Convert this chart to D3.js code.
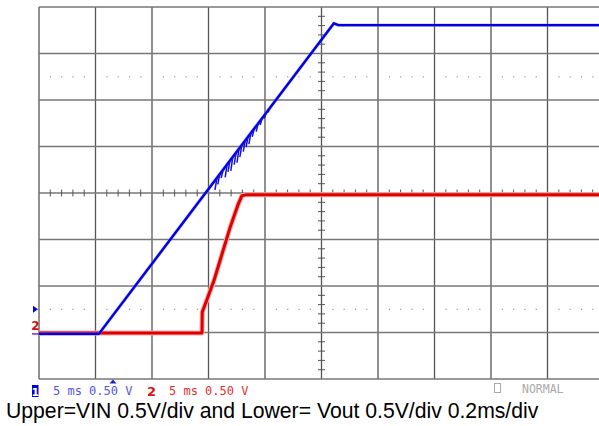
<!DOCTYPE html>
<html><head><meta charset="utf-8">
<script src="https://cdn.jsdelivr.net/npm/d3@7"></script>
<style>html,body{margin:0;padding:0;background:#fff;overflow:hidden}</style>
</head><body>
<svg id="c" width="599" height="426"></svg>
<script>
// Time in divisions (0.2 ms/div), voltage in divisions (0.5 V/div), screen centre = 0
const blueT = [0, 1.06, 5.22, 5.30, 6.0, 8.0, 10.0];
const blueV = [-3.03, -3.03, 3.65, 3.61, 3.61, 3.61, 3.61];
const redT = [0, 2.885, 2.89, 2.97, 3.10, 3.38, 3.52, 3.59, 3.66, 6.0, 10.0];
const redV = [-3.01, -3.01, -2.56, -2.30, -1.87, -0.75, -0.26, -0.06, -0.04, -0.04, -0.04];
// ringing spikes on the VIN ramp: time (div) and depth below trace (div)
const spikeT = [3.15, 3.20, 3.26, 3.33, 3.38, 3.43, 3.49, 3.54, 3.59, 3.65, 3.70, 3.75, 3.81, 3.88, 3.95, 4.02, 4.09];
const spikeLen = [0.26, 0.22, 0.18, 0.28, 0.24, 0.30, 0.26, 0.30, 0.26, 0.24, 0.22, 0.24, 0.18, 0.18, 0.15, 0.12, 0.10];
const ch1Label = "5 ms 0.50 V";
const ch2Label = "5 ms 0.50 V";
const modeLabel = "NORMAL";
const caption = "Upper=VIN 0.5V/div and Lower= Vout 0.5V/div 0.2ms/div";

const svg = d3.select("#c");
const x = d3.scaleLinear().domain([0, 10]).range([39, 604]);
const y = d3.scaleLinear().domain([-4, 4]).range([379, 7]);

const g = svg.append("g");
// grid
g.selectAll(".vg").data(d3.range(0, 11)).join("line")
  .attr("x1", d => x(d)).attr("x2", d => x(d)).attr("y1", y(4)).attr("y2", y(-4))
  .attr("stroke", "#555").attr("stroke-width", 1.3);
g.selectAll(".hg").data(d3.range(-4, 5)).join("line")
  .attr("x1", x(0)).attr("x2", x(10)).attr("y1", d => y(d)).attr("y2", d => y(d))
  .attr("stroke", "#777").attr("stroke-width", 1.6);
const minor = d3.range(0, 50).map(i => i / 5).filter(v => Math.abs(v - Math.round(v)) > 1e-6);
const minorY = d3.range(-20, 20).map(i => i / 5).filter(v => Math.abs(v - Math.round(v)) > 1e-6);
[2.5, -2.5].forEach(r => {
  g.selectAll(null).data(minor).join("rect")
    .attr("x", d => x(d) - 0.5).attr("y", y(r) - 0.5).attr("width", 1.2).attr("height", 1.2)
    .attr("fill", "#999");
});
g.selectAll(null).data(minor).join("line")
  .attr("x1", d => x(d)).attr("x2", d => x(d)).attr("y1", y(0) - 3.5).attr("y2", y(0) + 3.5)
  .attr("stroke", "#555").attr("stroke-width", 1);
g.selectAll(null).data(minorY).join("line")
  .attr("x1", x(5) - 3.5).attr("x2", x(5) + 3.5).attr("y1", d => y(d)).attr("y2", d => y(d))
  .attr("stroke", "#555").attr("stroke-width", 1);

const line = d3.line().x(d => x(d[0])).y(d => y(d[1]));
const red = redT.map((t, i) => [t, redV[i]]);
const blue = blueT.map((t, i) => [t, blueV[i]]);

// red trace
svg.append("path").attr("d", line(red)).attr("fill", "none")
  .attr("stroke", "#f5aaaa").attr("stroke-width", 5).attr("stroke-linejoin", "round");
svg.append("path").attr("d", line(red)).attr("fill", "none")
  .attr("stroke", "#e00000").attr("stroke-width", 3).attr("stroke-linejoin", "round");

const bInterp = t => {
  for (let i = 0; i < blueT.length - 1; i++) {
    if (t >= blueT[i] && t <= blueT[i + 1]) {
      const f = (t - blueT[i]) / (blueT[i + 1] - blueT[i]);
      return blueV[i] + f * (blueV[i + 1] - blueV[i]);
    }
  }
  return blueV[blueV.length - 1];
};
svg.append("path").attr("d", line(blue)).attr("fill", "none")
  .attr("stroke", "#8080f0").attr("stroke-width", 3.5).attr("stroke-opacity", 0.5).attr("stroke-linejoin", "round");
svg.append("path").attr("d", line(blue)).attr("fill", "none")
  .attr("stroke", "#0000e0").attr("stroke-width", 2.4).attr("stroke-linejoin", "round");
svg.selectAll(".sp").data(spikeT).join("line")
  .attr("x1", d => x(d)).attr("x2", (d, i) => x(d) - 2)
  .attr("y1", d => y(bInterp(d))).attr("y2", (d, i) => y(bInterp(d) - spikeLen[i]))
  .attr("stroke", "#1010e0").attr("stroke-width", 1.5);

// left markers
svg.append("path").attr("d", `M33,${y(-2.5) - 3.5}L38,${y(-2.5)}L33,${y(-2.5) + 3.5}Z`).attr("fill", "#0000e0");
svg.append("line").attr("x1", 32).attr("x2", 39).attr("y1", y(-3.03)).attr("y2", y(-3.03))
  .attr("stroke", "#8a2a9a").attr("stroke-width", 1.5);
svg.append("text").attr("x", 35.5).attr("y", 330).text("2").attr("text-anchor", "middle")
  .attr("font-family", "DejaVu Sans").attr("font-weight", "bold").attr("font-size", 12).attr("fill", "#d01010");
svg.append("path").attr("d", `M${x(1.31) - 3.5},383.5L${x(1.31)},379.5L${x(1.31) + 3.5},383.5Z`).attr("fill", "#2020c0");

// status line
svg.append("rect").attr("x", 32).attr("y", 385).attr("width", 6.5).attr("height", 12).attr("fill", "#0000d0");
svg.append("text").attr("x", 35.3).attr("y", 395.5).text("1").attr("fill", "#fff").attr("text-anchor", "middle")
  .attr("font-family", "DejaVu Sans").attr("font-weight", "bold").attr("font-size", 11);
svg.append("text").attr("x", 53).attr("y", 395).text(ch1Label).attr("fill", "#5555e0")
  .attr("font-family", "DejaVu Sans Mono").attr("font-size", 12);
svg.append("text").attr("x", 147).attr("y", 396).text("2").attr("fill", "#e01010")
  .attr("font-family", "DejaVu Sans").attr("font-weight", "bold").attr("font-size", 13);
svg.append("text").attr("x", 169).attr("y", 395).text(ch2Label).attr("fill", "#e03030")
  .attr("font-family", "DejaVu Sans Mono").attr("font-size", 12);
svg.append("rect").attr("x", 494.5).attr("y", 383.5).attr("width", 6).attr("height", 9)
  .attr("fill", "none").attr("stroke", "#aaa").attr("stroke-width", 1);
svg.append("text").attr("x", 522).attr("y", 393).text(modeLabel).attr("fill", "#aaa")
  .attr("font-family", "DejaVu Sans Mono").attr("font-size", 11.5);

svg.append("text").attr("x", 6).attr("y", 418).text(caption).attr("fill", "#000")
  .attr("font-family", "Liberation Sans, Arial, sans-serif").attr("font-size", 21.2);
</script>
</body></html>
